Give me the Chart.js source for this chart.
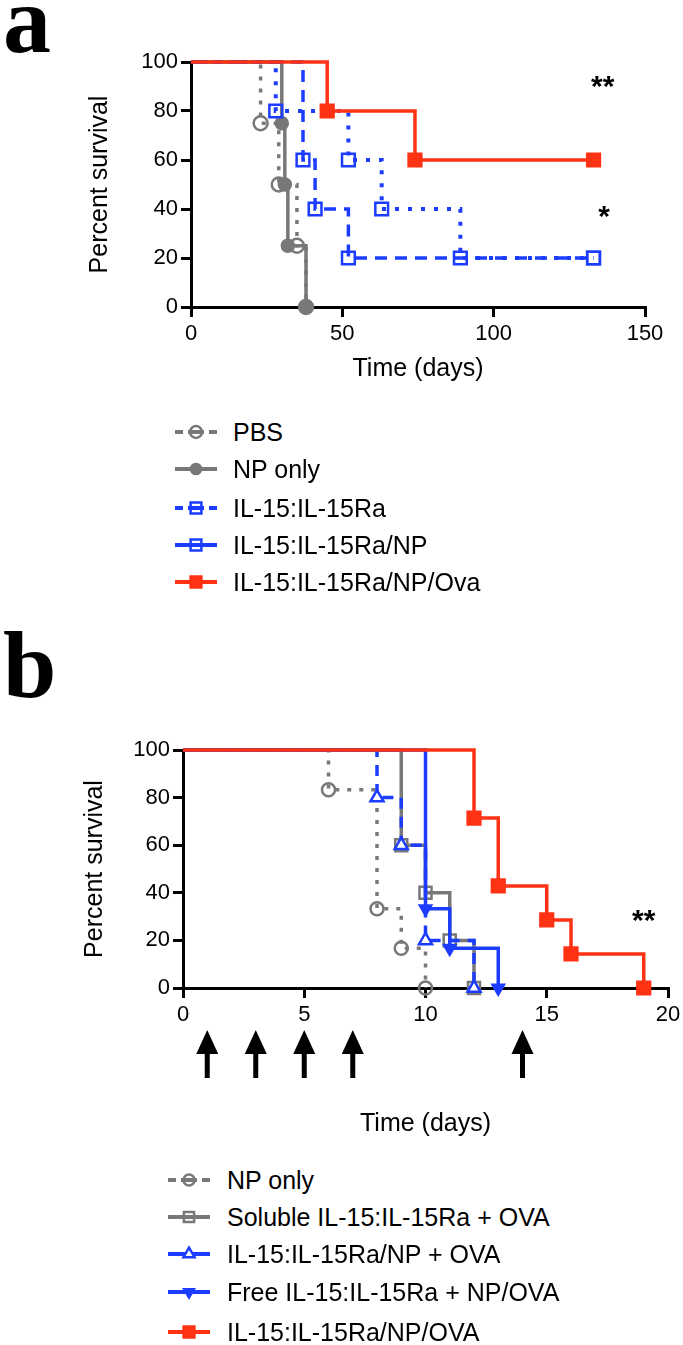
<!DOCTYPE html>
<html><head><meta charset="utf-8">
<script src="https://cdn.jsdelivr.net/npm/chart.js@4/dist/chart.umd.min.js"></script>
<style>
html,body{margin:0;padding:0;background:#fff;}
body{width:683px;height:1345px;position:relative;overflow:hidden;font-family:"Liberation Sans",Arial,Helvetica,sans-serif;}
#ca{position:absolute;left:0;top:0;}
#cb{position:absolute;left:0;top:600px;}
.row{position:absolute;display:flex;align-items:center;height:36px;font-size:25px;color:#000;white-space:nowrap;}
.row canvas{display:block;}
</style>
</head><body>
<canvas id="ca" width="683" height="400"></canvas>
<canvas id="cb" width="683" height="550"></canvas>
<div id="lega"></div>
<div id="legb"></div>
<script>
// ---------- Panel a data ----------
const aNames = ['PBS','NP only','IL-15:IL-15Ra','IL-15:IL-15Ra/NP','IL-15:IL-15Ra/NP/Ova'];
const aPBSDays = [0,23,29,35,38];
const aPBSSurv = [100,75,50,25,0];
const aNPDays  = [0,30,31,32,38];
const aNPSurv  = [100,75,50,25,0];
const aSolDays = [0,37,41,52,133];
const aSolSurv = [100,60,40,20,20];
const aNPcDays = [0,28,52,63,89,133];
const aNPcSurv = [100,80,60,40,20,20];
const aOvaDays = [0,45,74,133];
const aOvaSurv = [100,80,60,60];
const aXTicks = [0,50,100,150];
const aYTicks = [0,20,40,60,80,100];
const aSigText = ['**','*'];
const aSigDay  = [136,136.5];
const aSigSurv = [92,39];

// ---------- Panel b data ----------
const bNames = ['NP only','Soluble IL-15:IL-15Ra + OVA','IL-15:IL-15Ra/NP + OVA','Free IL-15:IL-15Ra + NP/OVA','IL-15:IL-15Ra/NP/OVA'];
const bNPDays   = [0,6,8,9,10];
const bNPSurv   = [100,83.3,33.3,16.7,0];
const bSolDays  = [0,9,10,11,12];
const bSolSurv  = [100,60,40,20,0];
const bNPODays  = [0,8,9,10,12];
const bNPOSurv  = [100,80,60,20,0];
const bFreeDays = [0,10,11,13];
const bFreeSurv = [100,33.3,16.7,0];
const bOvaDays  = [0,12,13,15,16,19];
const bOvaSurv  = [100,71.4,42.9,28.6,14.3,0];
const bXTicks = [0,5,10,15,20];
const bYTicks = [0,20,40,60,80,100];
const bArrowDays = [1,3,5,7,14];
const bSigText = ['**'];
const bSigDay  = [19];
const bSigSurv = [30.7];

// ---------- styles ----------
const GREY = '#787878', BLUE = '#1c3cff', RED = '#ff3214';
const FONT = '"Liberation Sans", Arial, Helvetica, sans-serif';
const CLEAR = 'rgba(255,255,255,0)';

function ds(label, days, surv, st) {
  return {
    label,
    data: days.map((d, i) => ({x: d, y: surv[i]})),
    stepped: 'before', fill: false, clip: false, tension: 0,
    borderColor: st.color, borderWidth: st.lw, borderDash: st.dash || [],
    borderCapStyle: 'butt', borderJoinStyle: 'miter',
    pointStyle: st.marker, pointRotation: st.rot || 0,
    pointRadius: c => c.dataIndex === 0 ? 0 : st.r,
    pointHoverRadius: c => c.dataIndex === 0 ? 0 : st.r,
    pointBorderWidth: st.pbw || 2.5,
    pointBorderColor: st.color,
    pointBackgroundColor: st.fill ? st.color : (st.white ? '#fff' : CLEAR),
    order: st.order
  };
}

const aStyles = [
  {color: GREY, lw: 3.5, dash: [4, 8], marker: 'circle', r: 7, fill: false, order: 4, icon: 'dash'},
  {color: GREY, lw: 3.5, marker: 'circle', r: 6, fill: true, order: 3, icon: 'solid'},
  {color: BLUE, lw: 3.5, dash: [12, 8], marker: 'rect', r: 9, fill: false, order: 2, icon: 'dash'},
  {color: BLUE, lw: 4, dash: [4, 9], marker: 'rect', r: 9, fill: false, order: 1, icon: 'solid'},
  {color: RED, lw: 3.5, marker: 'rect', r: 9, fill: true, order: 0, icon: 'solid'}
];
const bStyles = [
  {color: GREY, lw: 3.5, dash: [4, 8], marker: 'circle', r: 6.5, fill: false, order: 4, icon: 'dash'},
  {color: GREY, lw: 3.5, marker: 'rect', r: 8.5, fill: false, order: 3, icon: 'solid'},
  {color: BLUE, lw: 3.5, dash: [11, 8], marker: 'triangle', r: 7.5, fill: false, white: true, order: 2, icon: 'solid'},
  {color: BLUE, lw: 3.5, marker: 'triangle', rot: 180, r: 6.5, fill: true, order: 1, icon: 'solid'},
  {color: RED, lw: 3.5, marker: 'rect', r: 9, fill: true, order: 0, icon: 'solid'}
];

const extras = {
  id: 'extras',
  afterDraw(chart, args, opts) {
    const c = chart.ctx, xs = chart.scales.x, ys = chart.scales.y, ca = chart.chartArea;
    c.save();
    c.fillStyle = '#000';
    c.font = 'bold 96px "Liberation Serif", "Times New Roman", serif';
    c.textBaseline = 'alphabetic'; c.textAlign = 'left';
    c.fillText(opts.letter, opts.lx, opts.ly);
    c.textAlign = 'center'; c.textBaseline = 'middle';
    opts.sigText.forEach((t, i) => {
      const fs = opts.sigSize;
      c.font = 'bold ' + fs + 'px ' + FONT;
      c.fillText(t, xs.getPixelForValue(opts.sigDay[i]), ys.getPixelForValue(opts.sigSurv[i]) + fs * 0.22);
    });
    (opts.arrows || []).forEach(d => {
      const x = xs.getPixelForValue(d);
      const top = ca.bottom + 42, headB = ca.bottom + 66, bot = ca.bottom + 90;
      c.fillStyle = '#000';
      c.beginPath();
      c.moveTo(x, top); c.lineTo(x + 11, headB); c.lineTo(x - 11, headB); c.closePath(); c.fill();
      c.fillRect(x - 2.5, headB - 1, 5, bot - headB + 1);
    });
    c.restore();
  }
};

function makeChart(id, names, sets, styles, xmax, xTicks, yTicks, lay, ex) {
  return new Chart(document.getElementById(id), {
    type: 'line',
    data: {datasets: names.map((n, i) => ds(n, sets[i][0], sets[i][1], styles[i]))},
    options: {
      responsive: false, animation: false, devicePixelRatio: 1, events: [],
      layout: {padding: lay.pad},
      plugins: {legend: {display: false}, tooltip: {enabled: false}, extras: ex},
      scales: {
        x: {
          type: 'linear', min: 0, max: xmax,
          afterBuildTicks: s => { s.ticks = xTicks.map(v => ({value: v})); },
          afterFit: s => { s.height = lay.xh; s.paddingLeft = 0; s.paddingRight = 0; },
          ticks: {color: '#000', font: {family: FONT, size: 22}, padding: 4, maxRotation: 0, autoSkip: false},
          grid: {display: true, drawOnChartArea: false, drawTicks: true, tickLength: 10, lineWidth: 3, color: '#000'},
          border: {display: true, color: '#000', width: 3},
          title: {display: true, text: 'Time (days)', color: '#000', font: {family: FONT, size: 25}, padding: 0}
        },
        y: {
          type: 'linear', min: 0, max: 100,
          afterBuildTicks: s => { s.ticks = yTicks.map(v => ({value: v})); },
          afterFit: s => { s.width = lay.yw; s.paddingTop = 0; s.paddingBottom = 0; },
          ticks: {color: '#000', font: {family: FONT, size: 22}, padding: 3, autoSkip: false},
          grid: {display: true, drawOnChartArea: false, drawTicks: true, tickLength: 10, lineWidth: 3, color: '#000'},
          border: {display: true, color: '#000', width: 3},
          title: {display: true, text: 'Percent survival', color: '#000', font: {family: FONT, size: 25}, padding: 0}
        }
      }
    },
    plugins: [extras]
  });
}

makeChart('ca', aNames,
  [[aPBSDays, aPBSSurv], [aNPDays, aNPSurv], [aSolDays, aSolSurv], [aNPcDays, aNPcSurv], [aOvaDays, aOvaSurv]],
  aStyles, 150, aXTicks, aYTicks,
  {pad: {left: 85, right: 38, top: 62, bottom: 16}, xh: 77, yw: 106},
  {letter: 'a', lx: 3, ly: 52, sigText: aSigText, sigDay: aSigDay, sigSurv: aSigSurv, sigSize: 30});

makeChart('cb', bNames,
  [[bNPDays, bNPSurv], [bSolDays, bSolSurv], [bNPODays, bNPOSurv], [bFreeDays, bFreeSurv], [bOvaDays, bOvaSurv]],
  bStyles, 20, bXTicks, bYTicks,
  {pad: {left: 80, right: 15, top: 150, bottom: 11}, xh: 151, yw: 103},
  {letter: 'b', lx: 3, ly: 97, sigText: bSigText, sigDay: bSigDay, sigSurv: bSigSurv, sigSize: 30, arrows: bArrowDays});

// ---------- legends ----------
function drawIcon(cv, st) {
  const c = cv.getContext('2d'), y = cv.height / 2, L = 42, m = 21;
  c.strokeStyle = st.color; c.lineWidth = 4; c.lineCap = 'butt';
  c.beginPath();
  if (st.icon === 'dash') { c.moveTo(0, y); c.lineTo(8, y); c.moveTo(13, y); c.lineTo(29, y); c.moveTo(L - 8, y); c.lineTo(L, y); }
  else { c.moveTo(0, y); c.lineTo(L, y); }
  c.stroke();
  c.lineWidth = 2.5;
  c.fillStyle = st.fill ? st.color : '#fff';
  c.beginPath();
  const r = st.r * 0.85;
  if (st.marker === 'circle') c.arc(m, y, r, 0, Math.PI * 2);
  else if (st.marker === 'rect') { const s = r * Math.SQRT1_2; c.rect(m - s, y - s, 2 * s, 2 * s); }
  else if (st.marker === 'triangle') {
    const k = st.rot ? -1 : 1;
    c.moveTo(m, y - k * r); c.lineTo(m + r * 0.87, y + k * r * 0.5); c.lineTo(m - r * 0.87, y + k * r * 0.5); c.closePath();
  }
  if (st.fill || st.white) c.fill();
  c.stroke();
}
function legend(holder, names, styles, x0, tx, ys) {
  const h = document.getElementById(holder);
  names.forEach((n, i) => {
    const row = document.createElement('div');
    row.className = 'row';
    row.style.left = x0 + 'px';
    row.style.top = (ys[i] - 18) + 'px';
    const cv = document.createElement('canvas');
    cv.width = tx - x0; cv.height = 24;
    drawIcon(cv, styles[i]);
    row.appendChild(cv);
    const sp = document.createElement('span');
    sp.textContent = n;
    row.appendChild(sp);
    h.appendChild(row);
  });
}
legend('lega', aNames, aStyles, 175, 233, [432, 469, 508, 545, 582]);
legend('legb', bNames, bStyles, 168, 227, [1180, 1217, 1254, 1292, 1332]);
</script>
</body></html>
